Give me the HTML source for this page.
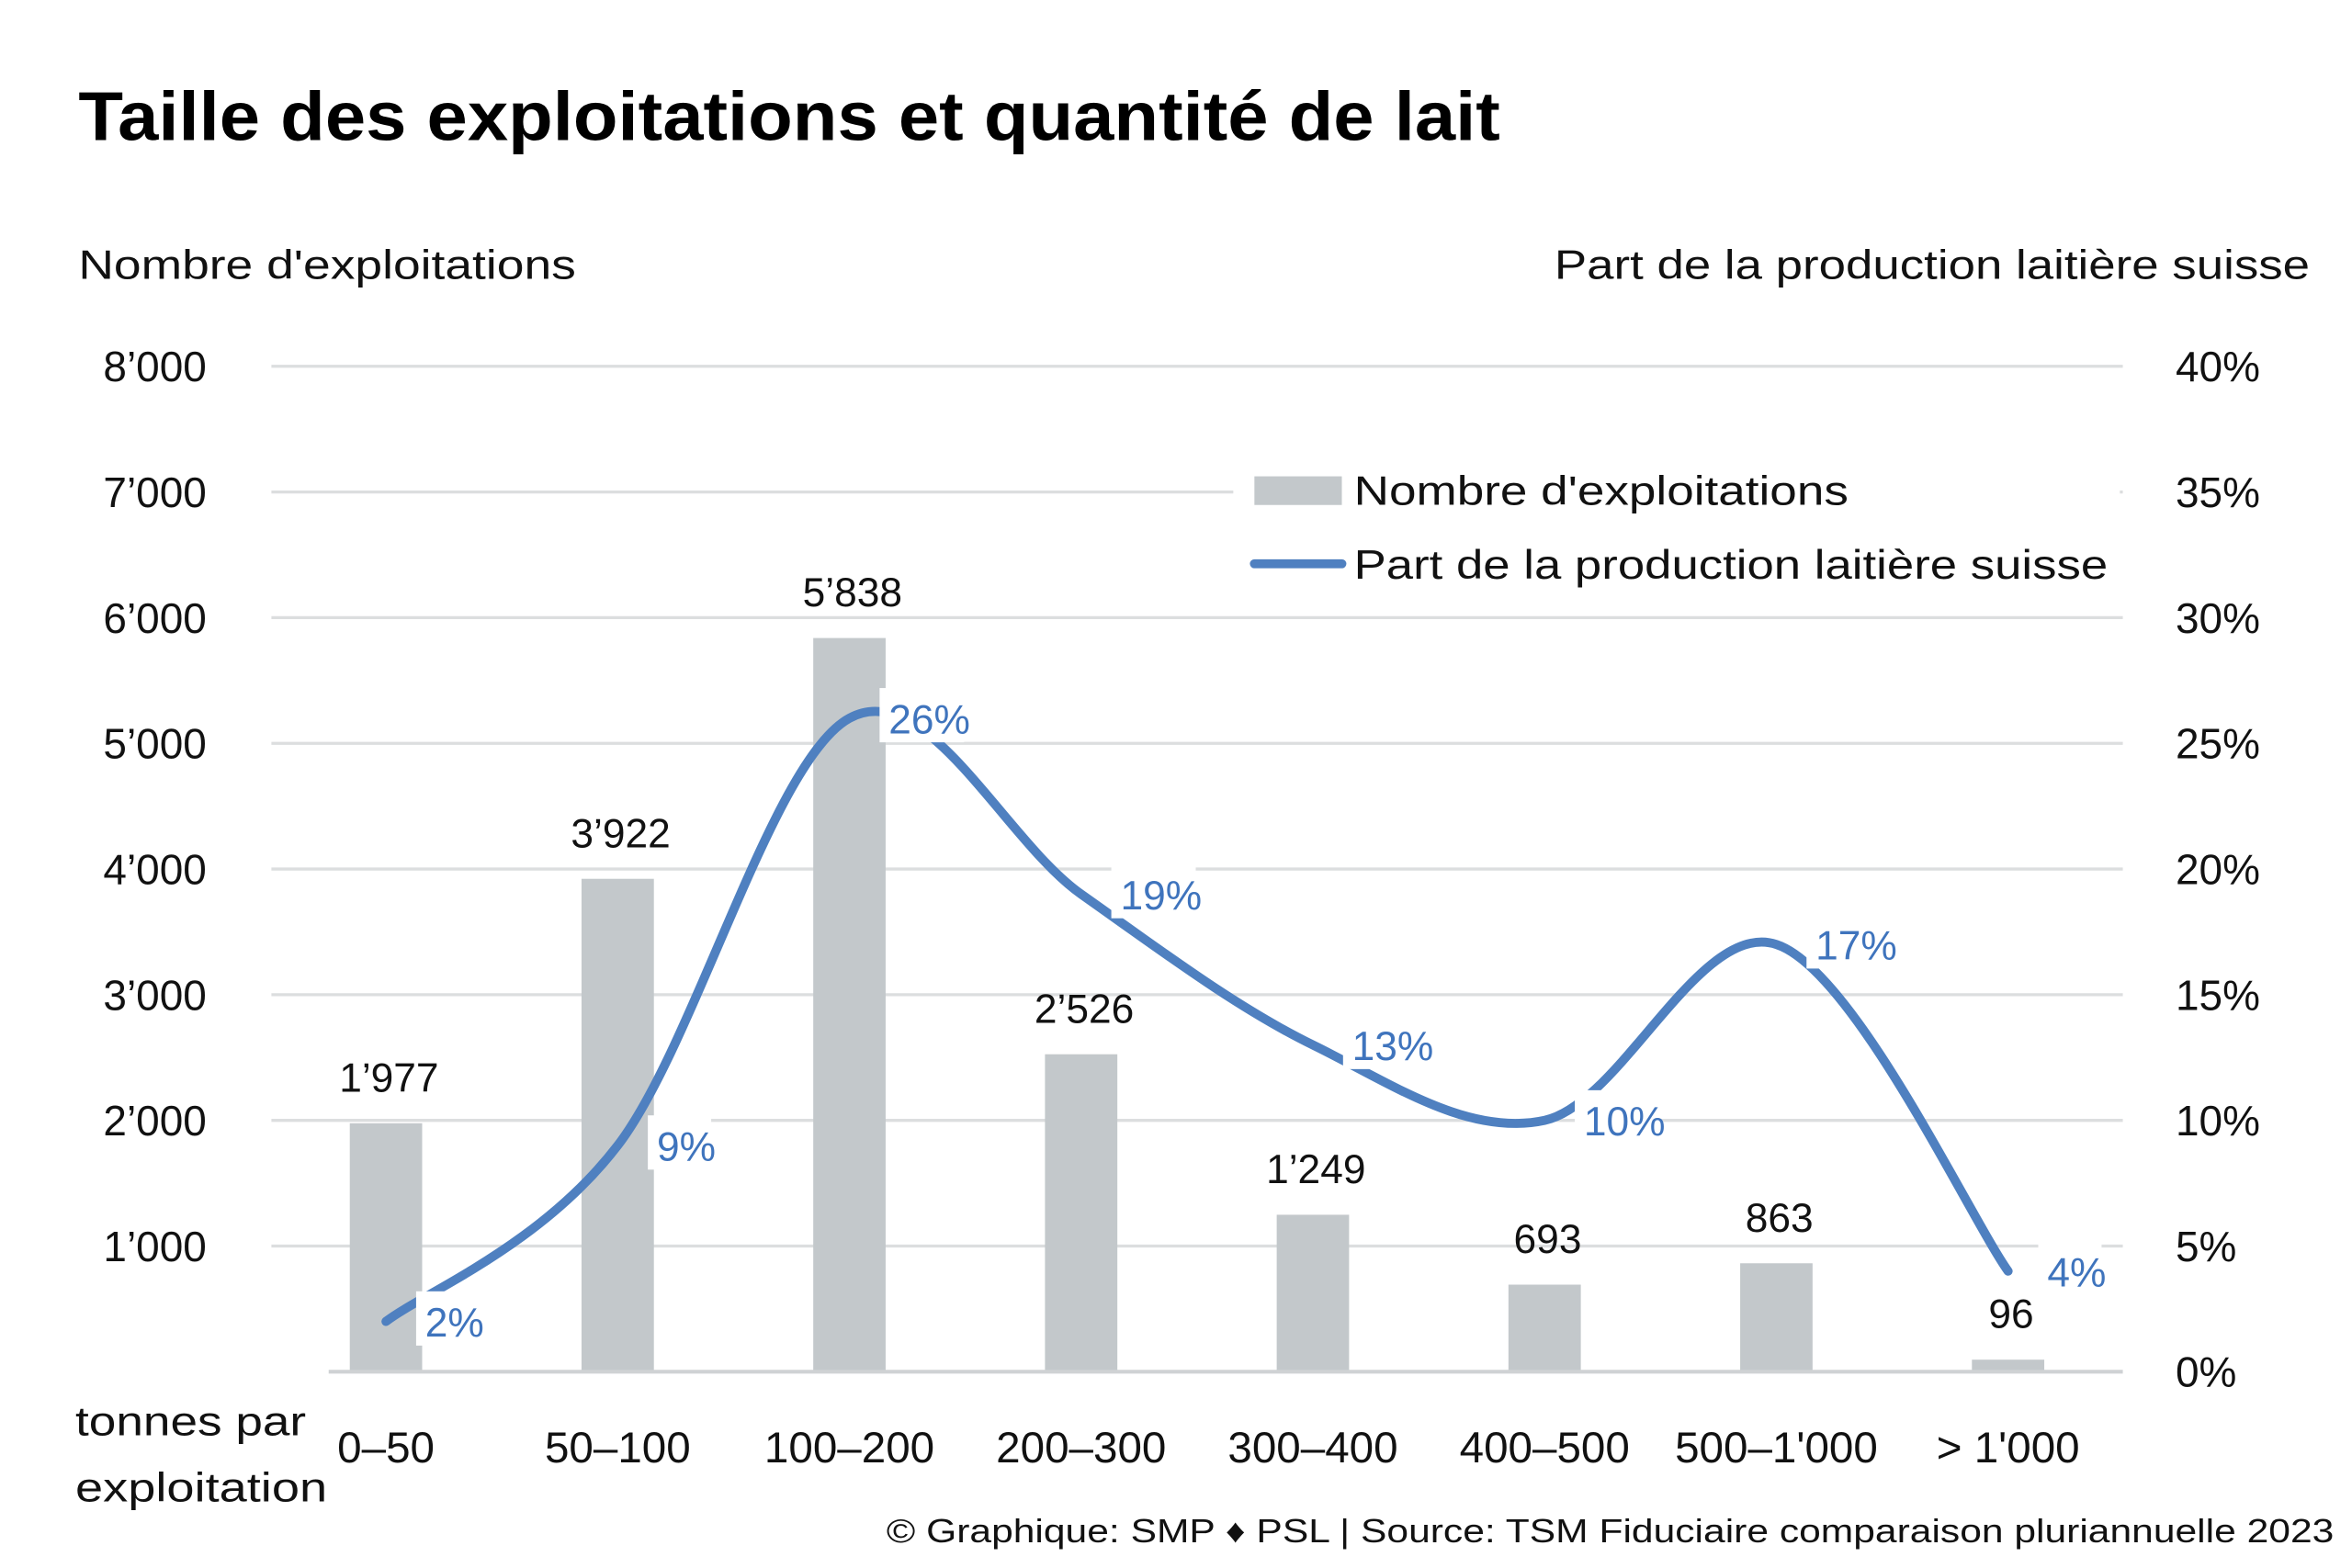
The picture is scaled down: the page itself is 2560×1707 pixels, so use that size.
<!DOCTYPE html>
<html><head><meta charset="utf-8"><style>
html,body{margin:0;padding:0;background:#fff;}
svg{display:block;font-family:"Liberation Sans",sans-serif;}
</style></head><body>
<svg id="chart" width="2560" height="1707" viewBox="0 0 1560 1040.2" xmlns="http://www.w3.org/2000/svg">
<text x="52" y="93" font-size="46" font-weight="bold" fill="#000" textLength="943" lengthAdjust="spacingAndGlyphs">Taille des exploitations et quantité de lait</text>
<text x="52" y="185" font-size="27" fill="#111" textLength="330" lengthAdjust="spacingAndGlyphs">Nombre d'exploitations</text>
<text x="1031" y="185" font-size="27" fill="#111" textLength="501" lengthAdjust="spacingAndGlyphs">Part de la production laitière suisse</text>
<g id="grid"></g>
<g id="bars"></g>
<line x1="218" x2="1408" y1="910" y2="910" stroke="#cfd2d4" stroke-width="2.5"/>
<rect x="818" y="300" width="588" height="96" fill="#fff"/>
<rect x="832" y="316" width="58" height="19" fill="#c3c8cb"/>
<text x="898" y="335" font-size="27" fill="#111" textLength="328" lengthAdjust="spacingAndGlyphs">Nombre d'exploitations</text>
<line x1="832" x2="890" y1="374" y2="374" stroke="#4f80c0" stroke-width="6" stroke-linecap="round"/>
<text x="898" y="384" font-size="27" fill="#111" textLength="500" lengthAdjust="spacingAndGlyphs">Part de la production laitière suisse</text>
<g id="line"></g>
<g id="xlabels"></g>
<text x="50" y="952" font-size="27" fill="#111" textLength="153" lengthAdjust="spacingAndGlyphs">tonnes par</text>
<text x="50" y="996" font-size="27" fill="#111" textLength="167" lengthAdjust="spacingAndGlyphs">exploitation</text>
<text x="588" y="1023" font-size="22" fill="#111" textLength="960" lengthAdjust="spacingAndGlyphs">© Graphique: SMP ♦ PSL | Source: TSM Fiduciaire comparaison pluriannuelle 2023</text>
</svg>
<script>
const categories = ["0–50","50–100","100–200","200–300","300–400","400–500","500–1'000","> 1'000"];
const counts = [1977,3922,5838,2526,1249,693,863,96];
const countLabels = ["1’977","3’922","5’838","2’526","1’249","693","863","96"];
const shares = [2,9,26,19,13,10,17,4];
const leftTicks = [0,1000,2000,3000,4000,5000,6000,7000,8000];
const leftTickLabels = ["","1’000","2’000","3’000","4’000","5’000","6’000","7’000","8’000"];
const rightTicks = [0,5,10,15,20,25,30,35,40];

const NS="http://www.w3.org/2000/svg";
const y0=910, yTop=243;
const yL=v=>y0-(v/8000)*(y0-yTop);
const yR=v=>y0-(v/40)*(y0-yTop);
const xC=i=>256+i*153.7;
function mk(tag,attrs,parent){const e=document.createElementNS(NS,tag);for(const k in attrs)e.setAttribute(k,attrs[k]);parent.appendChild(e);return e;}
const grid=document.getElementById('grid'),bars=document.getElementById('bars'),line=document.getElementById('line'),xl=document.getElementById('xlabels');
leftTicks.forEach((t,i)=>{
  if(t>0){const g=mk('line',{x1:180,x2:1408,y1:yL(t),y2:yL(t),stroke:'#dcdedf','stroke-width':2},grid);
  
  }
  const tl=mk('text',{x:137,y:yL(t)+10,'font-size':28,'text-anchor':'end',fill:'#111'},grid);tl.textContent=leftTickLabels[i];
  
  
});
rightTicks.forEach(t=>{
  const tl=mk('text',{x:1443,y:yR(t)+10,'font-size':28,fill:'#111'},grid);tl.textContent=t+'%';
  
  
});
counts.forEach((c,i)=>{
  const r=mk('rect',{x:xC(i)-24,y:yL(c),width:48,height:y0-yL(c),fill:'#c3c8cb'},bars);
  
  
  const t=mk('text',{x:xC(i)+2,y:yL(c)-21,'font-size':27,'text-anchor':'middle',fill:'#111'},bars);t.textContent=countLabels[i];
  
  
  const x=mk('text',{x:xC(i),y:970,'font-size':29,'text-anchor':'middle',fill:'#111'},xl);x.textContent=categories[i];
  
  
});
const pts=shares.map((s,i)=>[xC(i),yR(s)]);
let d='M'+pts[0][0]+','+pts[0][1];
for(let i=0;i<pts.length-1;i++){
  const p0=pts[Math.max(0,i-1)],p1=pts[i],p2=pts[i+1],p3=pts[Math.min(pts.length-1,i+2)];
  const c1=[p1[0]+(p2[0]-p0[0])/6,p1[1]+(p2[1]-p0[1])/6],c2=[p2[0]-(p3[0]-p1[0])/6,p2[1]-(p3[1]-p1[1])/6];
  d+=' C'+c1+' '+c2+' '+p2;
}
const path=mk('path',{d:d,fill:'none',stroke:'#4f80c0','stroke-width':6,'stroke-linecap':'round'},line);


shares.forEach((s,i)=>{
  const w=s>=10?56:42;
  const bg=mk('rect',{x:xC(i)+20,y:yR(s)-20,width:w,height:36,fill:'#fff'},line);
  
  
  const t=mk('text',{x:xC(i)+26,y:yR(s)+10,'font-size':27,fill:'#3f74bd'},line);t.textContent=s+'%';
  
  
});
</script>
</body></html>
